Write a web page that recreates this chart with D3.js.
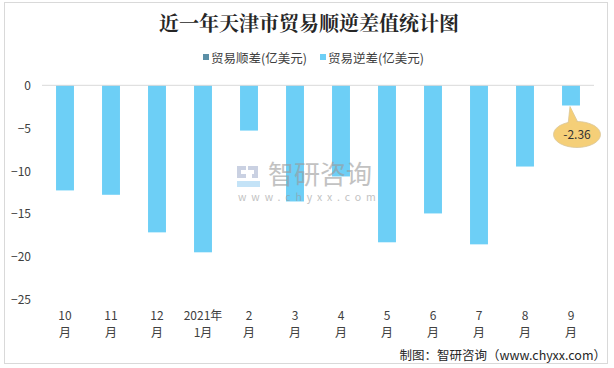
<!DOCTYPE html>
<html><head><meta charset="utf-8">
<script src="https://cdn.jsdelivr.net/npm/d3@7"></script>
<style>html,body{margin:0;padding:0;background:#fff}svg{display:block}</style>
</head><body>
<script>
const categories = ["10月","11月","12月","2021年1月","2月","3月","4月","5月","6月","7月","8月","9月"];
const tickLines = [["10","月"],["11","月"],["12","月"],["2021年","1月"],["2","月"],["3","月"],["4","月"],["5","月"],["6","月"],["7","月"],["8","月"],["9","月"]];
const surplus = [null,null,null,null,null,null,null,null,null,null,null,null];
const deficit = [-12.28,-12.79,-17.18,-19.51,-5.29,-13.57,-10.65,-18.34,-14.97,-18.58,-9.49,-2.36];
const yTicks = [0,-5,-10,-15,-20,-25];
const seriesNames = ["贸易顺差(亿美元)","贸易逆差(亿美元)"];
const title = "近一年天津市贸易顺逆差值统计图";
const footer = "制图：智研咨询（www.chyxx.com）";
const callout = {index: 11, text: "-2.36"};

const W = 614, H = 368;
const svg = d3.select("body").append("svg").attr("width", W).attr("height", H);
const font = "'Noto Sans CJK SC','Microsoft YaHei',sans-serif";

svg.append("rect").attr("x",4.5).attr("y",2.5).attr("width",603).attr("height",361)
  .attr("fill","#fff").attr("stroke","#d9d9d9");

svg.append("text").attr("x",309).attr("y",31).attr("text-anchor","middle")
  .attr("font-family","'Noto Serif CJK SC','Noto Sans CJK SC',serif").attr("font-weight","bold")
  .attr("font-size",20).attr("fill","#262626").text(title);

// legend
const legendColors = ["#5B8FA6","#6DCFF6"];
const lg = [{x:203,c:legendColors[0],t:seriesNames[0]},{x:320,c:legendColors[1],t:seriesNames[1]}];
lg.forEach(d=>{
  svg.append("rect").attr("x",d.x).attr("y",54).attr("width",6).attr("height",6).attr("fill",d.c);
  svg.append("text").attr("x",d.x+8).attr("y",62.5).attr("font-family",font).attr("font-size",12.5)
    .attr("fill","#404040").text(d.t);
});

const x = d3.scaleBand().domain(categories).range([42,594]).paddingInner(0.61).paddingOuter(0.305);
const y = d3.scaleLinear().domain([-25,0]).range([299.3,85.3]);

// y tick labels
const yAxis = d3.axisLeft(y).tickValues(yTicks).tickSize(0).tickPadding(0).tickFormat(d3.format("d"));
const gy = svg.append("g").attr("transform","translate(31,0)").call(yAxis);
gy.select(".domain").remove();
gy.selectAll("text").attr("font-family",font).attr("font-size",12).attr("fill","#404040").attr("dy","0.35em");

// bars
svg.append("g").selectAll("rect").data(deficit).join("rect")
  .attr("x",(d,i)=>x(categories[i])).attr("width",x.bandwidth())
  .attr("y",d=>y(0)).attr("height",d=>y(d)-y(0)).attr("fill",legendColors[1]);

// zero line
svg.append("line").attr("x1",42).attr("x2",594).attr("y1",y(0)).attr("y2",y(0))
  .attr("stroke","#d9d9d9").attr("stroke-width",1);

// watermark (drawn over bars)
const wm = svg.append("g").attr("opacity",0.6);
wm.append("path").attr("d","M237,166 h9 v4 h-5 v4 h5 v4 h-9 z").attr("fill","#a8b4d0");
wm.append("path").attr("d","M248,166 h10 v12 h-6 v-4 h2 v-4 h-6 z").attr("fill","#a8b4d0");
wm.append("path").attr("d","M237,181 h23 v6 h-23 z").attr("fill","#9ed2f2");
wm.append("text").attr("x",268).attr("y",184).attr("font-family",font).attr("font-size",26)
  .attr("fill","#9a9a9a").text("智研咨询");
wm.append("text").attr("x",238).attr("y",201).attr("font-family",font).attr("font-size",10.5)
  .attr("letter-spacing","4.9px").attr("fill","#9a9a9a").text("www.chyxx.com");

// x labels
const gx = svg.append("g");
categories.forEach((c,i)=>{
  const cx = x(c)+x.bandwidth()/2;
  tickLines[i].forEach((t,j)=>{
    gx.append("text").attr("x",cx).attr("y",320+j*16.5).attr("text-anchor","middle")
      .attr("font-family",font).attr("font-size",12).attr("fill","#404040").text(t);
  });
});

// callout
const ci = callout.index;
const bx = x(categories[ci])+x.bandwidth()/2;
const by = y(deficit[ci]);
const ecx = bx+6, ecy = by+29, rx = 23.5, ry = 13;
const cg = svg.append("g");
cg.append("path").attr("d",`M${bx-1},${by+1} L${ecx-9},${ecy-ry+3} L${ecx+1},${ecy-ry+1} Z`)
  .attr("fill","#F5CF78").attr("stroke","#d9c79a").attr("stroke-width",0.8);
cg.append("ellipse").attr("cx",ecx).attr("cy",ecy).attr("rx",rx).attr("ry",ry)
  .attr("fill","#F5CF78").attr("stroke","#d9c79a").attr("stroke-width",0.8);
cg.append("path").attr("d",`M${bx-0.5},${by+2} L${ecx-8.5},${ecy-ry+4} L${ecx+0.5},${ecy-ry+2.5} Z`)
  .attr("fill","#F5CF78");
cg.append("text").attr("x",ecx).attr("y",ecy).attr("dy","0.35em").attr("text-anchor","middle")
  .attr("font-family",font).attr("font-size",12).attr("fill","#333").text(callout.text);

// footer
svg.append("text").attr("x",606).attr("y",360).attr("text-anchor","end")
  .attr("font-family","'Noto Sans CJK SC',monospace").attr("font-size",12.5).attr("fill","#262626").text(footer);
</script>
</body></html>
